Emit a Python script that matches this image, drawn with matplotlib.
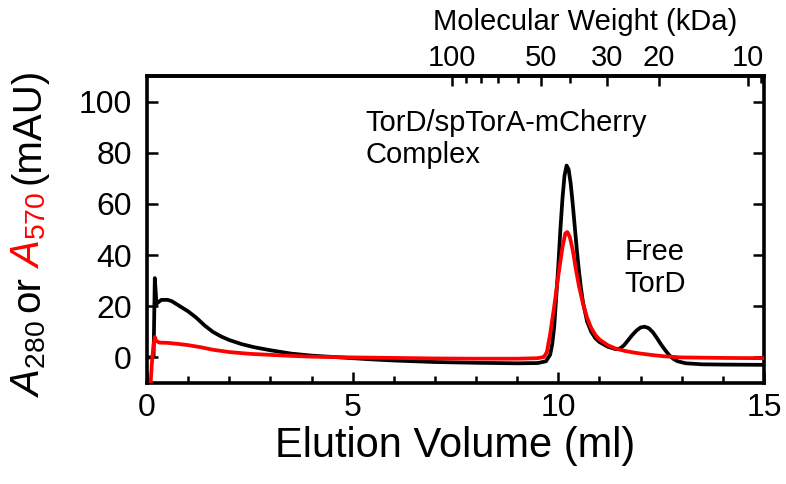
import numpy as np
import matplotlib
matplotlib.use("Agg")
import matplotlib.pyplot as plt
from matplotlib.ticker import FixedLocator, NullFormatter

plt.rcParams['font.family'] = ['Liberation Sans', 'DejaVu Sans']
plt.rcParams['mathtext.fontset'] = 'custom'
plt.rcParams['mathtext.rm'] = 'Liberation Sans'
plt.rcParams['mathtext.it'] = 'Liberation Sans:italic'

# A280 trace (black)
vol_280 = [0.0, 0.1, 0.16, 0.19, 0.23, 0.27, 0.35, 0.5, 0.6, 0.8, 1.0, 1.2, 1.4, 1.6, 1.8,
           2.0, 2.3, 2.6, 3.0, 3.5, 4.0, 4.5, 5.0, 5.5, 6.0, 7.0, 8.0, 9.0, 9.5, 9.7,
           9.8, 9.85, 9.9, 9.95, 10.0, 10.05, 10.1, 10.15, 10.2, 10.25, 10.3, 10.35, 10.4,
           10.45, 10.5, 10.55, 10.6, 10.7, 10.8, 10.9, 11.0, 11.2, 11.4, 11.5, 11.6, 11.7,
           11.8, 11.9, 12.0, 12.1, 12.2, 12.3, 12.4, 12.5, 12.6, 12.7, 12.8, 12.9, 13.1,
           13.5, 14.0, 15.0]
a280 = [0, 0, 0.5, 31, 21, 21.5, 22.5, 22.5, 22, 20, 18, 15.5, 12.5, 10, 8.2,
        6.8, 5.2, 4.0, 2.8, 1.5, 0.7, 0.2, -0.3, -0.8, -1.2, -1.8, -2.1, -2.3, -2.2, -1.5,
        1, 5, 12, 24, 36, 50, 62, 71, 75, 73.5, 68, 60, 51,
        42, 34, 27, 21.5, 14, 10, 7.5, 6, 4.2, 3.2, 3.5, 4.8, 6.8,
        8.8, 10.5, 11.7, 12, 11.4, 9.8, 7.5, 5, 2.8, 0.8, -0.6, -1.5, -2.3,
        -2.7, -2.8, -2.9]

# A570 trace (red)
vol_570 = [0.08, 0.12, 0.16, 0.19, 0.22, 0.3, 0.5, 0.8, 1.0, 1.3, 1.6, 2.0, 2.5, 3.0, 3.5,
           4.0, 5.0, 6.0, 7.0, 8.0, 9.0, 9.5, 9.65, 9.72, 9.8, 9.9, 10.0, 10.1, 10.17,
           10.22, 10.28, 10.35, 10.42, 10.5, 10.6, 10.7, 10.8, 10.9, 11.0, 11.2, 11.4,
           11.6, 11.8, 12.0, 12.3, 12.6, 13.0, 14.0, 15.0]
a570 = [-12, -2, 5, 8, 6.5, 5.8, 5.7, 5.2, 4.8, 4.0, 3.0, 2.1, 1.4, 1.0, 0.6,
        0.3, 0.0, -0.2, -0.4, -0.5, -0.5, -0.3, 0.2, 2, 9, 20, 32, 43, 48.5,
        49, 47, 42, 35, 28, 21, 15.5, 11.5, 8.8, 7.0, 4.8, 3.4,
        2.6, 2.0, 1.5, 0.9, 0.4, 0.0, -0.2, -0.3]

mw_major = [100, 50, 30, 20, 10]
mw_minor = [90, 80, 70, 60, 40, 9]

# column calibration: volume = a - b*log10(MW)
cal_a, cal_b = 21.8, 7.19


def vol2mw(v):
    return 10 ** ((cal_a - np.asarray(v, dtype=float)) / cal_b)


def mw2vol(m):
    m = np.clip(np.asarray(m, dtype=float), 1e-6, None)
    return cal_a - cal_b * np.log10(m)


fig = plt.figure(figsize=(7.86, 4.84), dpi=100)
ax = fig.add_axes([147 / 786, 101 / 484, 617 / 786, 307 / 484])

ax.plot(vol_280, a280, color='black', lw=2.7, zorder=3)
ax.plot(vol_570, a570, color='#ff0000', lw=2.7, zorder=4)

ax.set_xlim(0, 15)
ax.set_ylim(-10, 110)
ax.set_xticks([0, 5, 10, 15])
ax.xaxis.set_minor_locator(FixedLocator(np.arange(0, 16, 1)))
ax.set_yticks([0, 20, 40, 60, 80, 100])
ax.tick_params(axis='both', which='both', direction='in', width=1.8, labelsize=23)
ax.tick_params(axis='x', which='major', length=8, pad=7)
ax.tick_params(axis='x', which='minor', length=5)
ax.tick_params(axis='y', which='major', length=8, pad=11, right=True)
for s in ax.spines.values():
    s.set_linewidth(2.6)

ax.set_xlabel('Elution Volume (ml)', fontsize=30, labelpad=2)

top = ax.secondary_xaxis('top', functions=(vol2mw, mw2vol))
top.xaxis.set_major_locator(FixedLocator(mw_major))
top.xaxis.set_minor_locator(FixedLocator(mw_minor))
top.xaxis.set_minor_formatter(NullFormatter())
top.set_xticklabels([str(m) for m in mw_major])
top.tick_params(axis='x', which='both', direction='in', width=1.8, labelsize=21, pad=3)
top.tick_params(axis='x', which='major', length=7)
top.tick_params(axis='x', which='minor', length=5)
top.spines['top'].set_linewidth(2.6)
fig.text(585 / 786, 1 - 22 / 484, 'Molecular Weight (kDa)', fontsize=21,
         ha='center', va='center')

ax.text(5.3, 97, 'TorD/spTorA-mCherry\nComplex', fontsize=21, ha='left', va='top',
        linespacing=1.15)
ax.text(12.35, 35, 'Free\nTorD', fontsize=21, ha='center', va='center', linespacing=1.15)

# y label built from pieces so that A570 can be red
fig.canvas.draw()
renderer = fig.canvas.get_renderer()
x_px, y_px = 39, 87
pieces = [(r'$A_{\mathit{280}}$', 'black'), ('or', 'black'),
          (r'$A_{\mathit{570}}$', '#ff0000'), ('(mAU)', 'black')]
for txt, col in pieces:
    t = fig.text(x_px / 786, y_px / 484, txt, color=col, rotation=90,
                 rotation_mode='anchor', ha='left', va='baseline', fontsize=29)
    bb = t.get_window_extent(renderer)
    y_px += bb.height + 8

fig.savefig('out.png', dpi=100)
